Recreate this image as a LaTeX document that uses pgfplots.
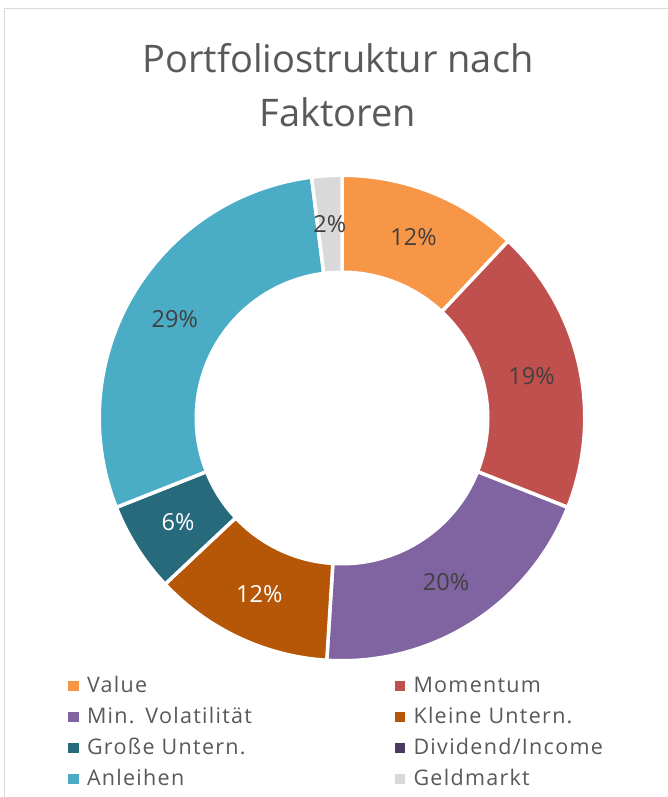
\documentclass[border=0pt]{standalone}
\usepackage{pgfplots}
\pgfplotsset{compat=1.18}
\usepackage{pgfplotstable}
\usepackage{fontspec}
\setmainfont{Open Sans}
\newfontfamily\legfont[LetterSpace=6]{Open Sans}
\definecolor{c0}{HTML}{F79646}
\definecolor{c1}{HTML}{C0504D}
\definecolor{c2}{HTML}{8064A2}
\definecolor{c3}{HTML}{B65708}
\definecolor{c4}{HTML}{276A7C}
\definecolor{c5}{HTML}{4B3A62}
\definecolor{c6}{HTML}{4BACC6}
\definecolor{c7}{HTML}{D9D9D9}
\definecolor{txtgray}{HTML}{595959}
\definecolor{lbldark}{HTML}{404040}
\definecolor{framegray}{HTML}{D9D9D9}

\pgfplotstableread[col sep=comma]{
name,value,lcol
Value,12,lbldark
Momentum,19,lbldark
Min. Volatilität,20,lbldark
Kleine Untern.,12,white
Große Untern.,6,white
Dividend/Income,0,lbldark
Anleihen,29,lbldark
Geldmarkt,2,lbldark
}\faktoren

\def\Rout{242.75}
\def\Rin{147.5}
\def\Rlab{194.25}

\begin{document}
\begin{tikzpicture}[x=1pt,y=1pt]
\useasboundingbox (0,0) rectangle (668,797);
\fill[white] (0,0) rectangle (668,797);
\draw[framegray, line width=1.2pt] (4.5,-5) -- (4.5,788.5) -- (675,788.5);
\node[anchor=base, text=txtgray, font=\fontsize{38}{46}\selectfont, inner sep=0pt] at (338,724) {Portfoliostruktur nach};
\node[anchor=base, text=txtgray, font=\fontsize{38}{46}\selectfont, inner sep=0pt] at (338,670) {Faktoren};
\begin{axis}[
  at={(0,0)}, anchor=south west,
  x=1pt, y=1pt,
  xmin=-342, xmax=326, ymin=-379, ymax=418,
  hide axis, clip=false,
  legend columns=2,
  legend cell align=left,
  legend image code/.code={\fill[#1,draw=none] (0pt,-5pt) rectangle (10.5pt,5pt);},
  legend style={at={(0.1018,0.1527)}, anchor=north west, draw=none, fill=none,
    inner sep=0pt, outer sep=0pt, column sep=8.5pt, row sep=8.9pt,
    font=\legfont\fontsize{21.5}{25}\selectfont, text=txtgray,
    nodes={inner sep=0pt, text height=17pt, text depth=5pt, text width=299pt, align=left}},
]
\def\cum{0}
\pgfplotsforeachungrouped \i in {0,...,7}{%
  \pgfplotstablegetelem{\i}{value}\of\faktoren
  \pgfmathsetmacro\vv{\pgfplotsretval}%
  \pgfmathsetmacro\cend{\cum+\vv}%
  \pgfplotstablegetelem{\i}{lcol}\of\faktoren
  \let\lc\pgfplotsretval
  \ifdim\vv pt>0pt
    \edef\doplot{\noexpand\addplot[fill=c\i, draw=white, line width=3.5pt, line join=round, domain=\cum:\cend, samples=90, variable=\noexpand\t] ({\Rout*cos(90-3.6*\noexpand\t)},{\Rout*sin(90-3.6*\noexpand\t)}) -- (axis cs:0,0) -- cycle;}%
    \doplot
    \pgfmathsetmacro\midang{90-3.6*(\cum+\cend)/2}%
    \pgfmathsetmacro\lx{\Rlab*cos(\midang)}%
    \pgfmathsetmacro\ly{\Rlab*sin(\midang)}%
    \pgfmathtruncatemacro\pct{\vv}%
    \edef\donode{\noexpand\node[text=\lc, font=\noexpand\fontsize{23.5}{28}\noexpand\selectfont] at (axis cs:\lx,\ly) {\pct\noexpand\%};}%
    \donode
  \else
    \edef\doplot{\noexpand\addlegendimage{fill=c\i}}%
    \doplot
  \fi
  \pgfplotstablegetelem{\i}{name}\of\faktoren
  \edef\doleg{\noexpand\addlegendentry{\pgfplotsretval}}%
  \doleg
  \let\cum\cend
}
\addplot[fill=white, draw=none, domain=0:360, samples=200, forget plot] ({\Rin*cos(x)},{\Rin*sin(x)}) -- cycle;
\end{axis}
\end{tikzpicture}
\end{document}
